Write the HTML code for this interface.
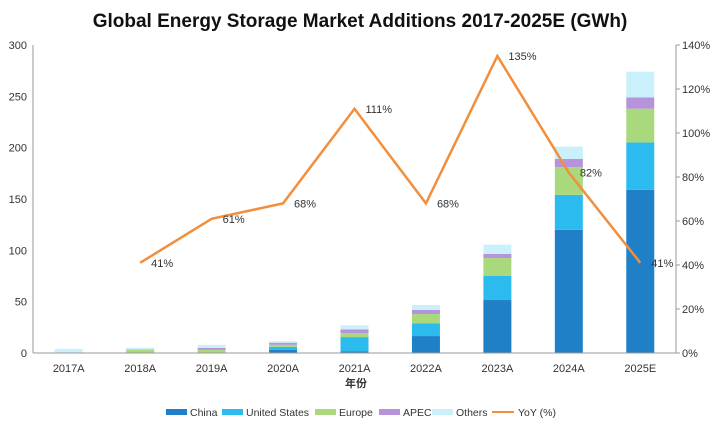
<!DOCTYPE html>
<html><head><meta charset="utf-8"><style>
body{margin:0;background:#fff;}
svg{display:block;font-family:"Liberation Sans","Noto Sans CJK SC",sans-serif;}
</style></head><body>
<svg id="c" width="720" height="430">
<text x="360" y="27" text-anchor="middle" font-size="19" font-weight="bold" fill="#111">Global Energy Storage Market Additions 2017-2025E (GWh)</text>
</svg>
<script>
const categories=["2017A","2018A","2019A","2020A","2021A","2022A","2023A","2024A","2025E"];
const china=[0,0,0,3,1.5,16.5,51.6,120,159];
const us=[0,0.3,0.5,3,14,12.5,23.4,34,46];
const europe=[0.5,3.2,2.5,2,4,9,17.5,27,33];
const apec=[0,0,2,2,3.5,4,4,8,11];
const others=[3.5,1.5,3,1.5,4,4.7,9,12,25];
const yoy=[null,41,61,68,111,68,135,82,41];
const leftTicks=[0,50,100,150,200,250,300];
const rightTicks=[0,20,40,60,80,100,120,140];
const colors=["#1f80c8","#2bbbef","#a9d97c","#b693db","#c9f0fb"];
const names=["China","United States","Europe","APEC","Others"];
const series=[china,us,europe,apec,others];
const svg=document.getElementById('c');
const NS="http://www.w3.org/2000/svg";
const X0=33,X1=676,Y0=353,Y1=45;
const band=(X1-X0)/categories.length;
const xc=i=>X0+band*(i+0.5);
const yL=v=>Y0-(v/300)*(Y0-Y1);
const yR=v=>Y0-(v/140)*(Y0-Y1);
function mk(t,a,txt){const e=document.createElementNS(NS,t);for(const k in a)e.setAttribute(k,a[k]);if(txt!==undefined)e.textContent=txt;svg.appendChild(e);return e;}
let e=mk('line',{x1:X0,y1:Y1,x2:X0,y2:Y0,stroke:'#999'});


e=mk('line',{x1:X1,y1:Y1,x2:X1,y2:Y0,stroke:'#999'});


leftTicks.forEach(t=>{
 const l=mk('text',{x:X0-6,y:yL(t)+4,'text-anchor':'end','font-size':11,fill:'#333'},t);
 
 
});
rightTicks.forEach(t=>{
 mk('line',{x1:X1,y1:yR(t),x2:X1+4,y2:yR(t),stroke:'#999'});
 const l=mk('text',{x:X1+6,y:yR(t)+4,'font-size':11,fill:'#333'},t+'%');
 
 
});
categories.forEach((c,i)=>{
 let base=0;
 series.forEach((s,k)=>{
  const v=s[i];if(v>0){
  const r=mk('rect',{x:xc(i)-14,y:yL(base+v),width:28,height:yL(base)-yL(base+v),fill:colors[k]});
  
  }
  base+=v;
 });
 const l=mk('text',{x:xc(i),y:Y0+19,'text-anchor':'middle','font-size':11,fill:'#333'},c);
 
 
});
e=mk('line',{x1:X0,y1:Y0,x2:X1,y2:Y0,stroke:'#999'});


e=mk('text',{x:356,y:387,'text-anchor':'middle','font-size':11,'font-weight':'bold',fill:'#333'},'年份');


let pts=[];yoy.forEach((v,i)=>{if(v!==null)pts.push(xc(i)+','+yR(v));});
e=mk('polyline',{points:pts.join(' '),fill:'none',stroke:'#f28e3c','stroke-width':2.5});


yoy.forEach((v,i)=>{if(v===null)return;
 const l=mk('text',{x:xc(i)+11,y:yR(v)+4,'font-size':11,fill:'#333'},v+'%');
 
 
});
const lx=[166,222,315,379,432];
names.forEach((n,k)=>{
 const r=mk('rect',{x:lx[k],y:409,width:21,height:6,fill:colors[k]});
 
 
 const t=mk('text',{x:lx[k]+24,y:416,'font-size':10.5,fill:'#333'},n);
 
 
});
e=mk('line',{x1:492,y1:412,x2:514,y2:412,stroke:'#f28e3c','stroke-width':2});


e=mk('text',{x:518,y:416,'font-size':10.5,fill:'#333'},'YoY (%)');


</script>
</body></html>
